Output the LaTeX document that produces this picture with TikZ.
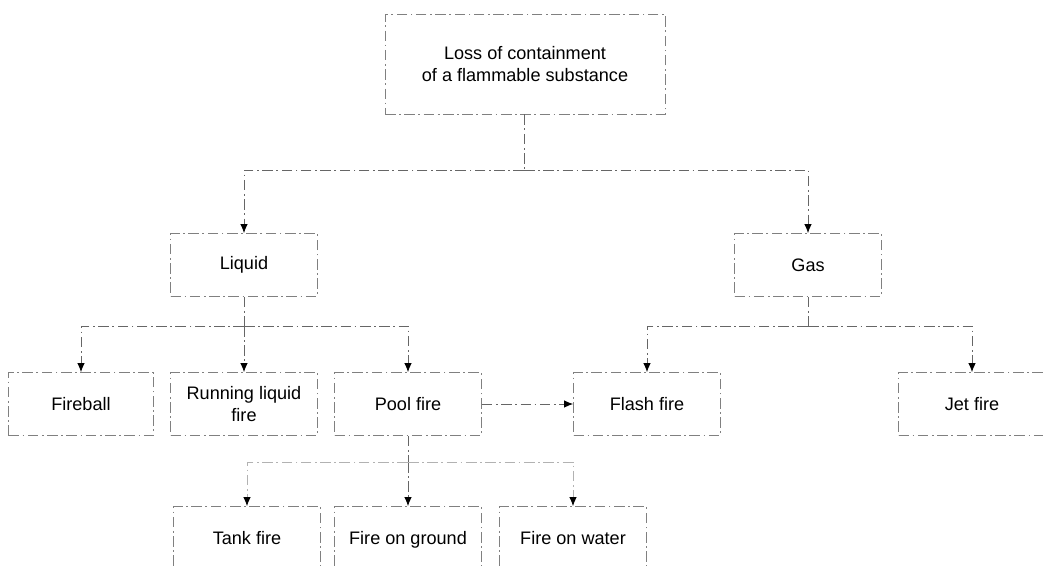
\documentclass[tikz,border=0pt]{standalone}
\usepackage{fontspec}
\setmainfont{Liberation Sans}
\usetikzlibrary{arrows.meta}

\begin{document}
\begin{tikzpicture}[x=0.02cm, y=-0.02cm, every node/.style={font=\fontsize{10.3}{12.3}\selectfont},
    box/.style={draw=black!50, line width=0.5pt, dash pattern=on 6pt off 2pt on 1pt off 2pt, minimum width=2.94cm, minimum height=1.26cm, align=center, inner sep=1pt},
    link/.style={draw=black!60, line width=0.5pt, dash pattern=on 6pt off 2pt on 1pt off 2pt},
    arr/.style={link, -{Latex[length=1.8mm, width=1.5mm, color=black]}}]
    \useasboundingbox (0,0) rectangle (1043,565);
    % top
    \node[box, minimum width=5.6cm, minimum height=2cm] (loss) at (525,64) {Loss of containment\\of a flammable substance};
    \node[box] (liquid) at (244,265) {Liquid};
    \node[box] (gas) at (808,265) {Gas};
    % third row
    \node[box, minimum width=2.9cm] (fireball) at (81,404) {Fireball};
    \node[box] (running) at (244,404) {Running liquid\\fire};
    \node[box] (pool) at (408,404) {Pool fire};
    \node[box] (flash) at (647,404) {Flash fire};
    \node[box] (jet) at (972,404) {Jet fire};
    % bottom row
    \node[box] (tank) at (247,538) {Tank fire};
    \node[box, text depth=0pt] (ground) at (408,538) {Fire on ground};
    \node[box] (water) at (573,538) {Fire on water};
    \coordinate (split) at (524,170);
    \coordinate (lsplit) at (244,326);
    \coordinate (gsplit) at (808,326);
    \coordinate (psplit) at (408,462);
    \draw[link] (loss.south -| split) -- (split);
    \draw[arr] (split) -| (liquid);
    \draw[arr] (split) -| (gas);
    \draw[link] (liquid) -- (lsplit);
    \draw[arr] (lsplit) -| (fireball);
    \draw[arr] (lsplit) -- (running);
    \draw[arr] (lsplit) -| (pool);
    \draw[link] (gas) -- (gsplit);
    \draw[arr] (gsplit) -| (flash);
    \draw[arr] (gsplit) -| (jet);
    \draw[arr] (pool) -- (flash);
    \draw[link] (pool) -- (psplit);
    \draw[arr, draw=black!30] (psplit) -| (tank);
    \draw[arr] (psplit) -- (ground);
    \draw[arr, draw=black!30] (psplit) -| (water);
\end{tikzpicture}
\end{document}
